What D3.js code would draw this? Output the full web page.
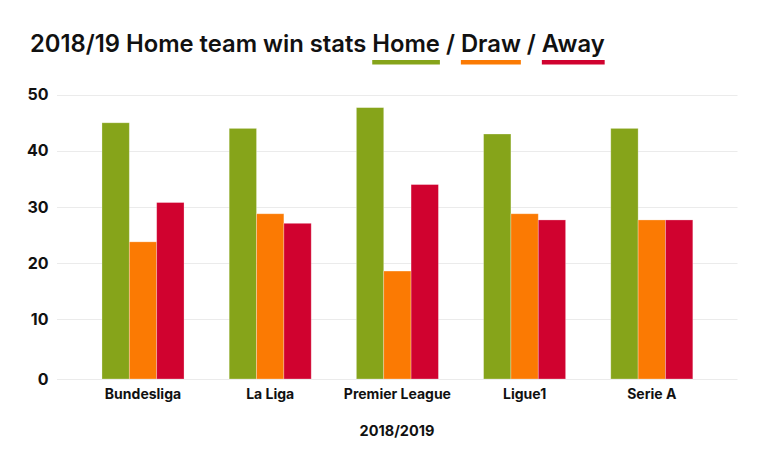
<!DOCTYPE html>
<html>
<head>
<meta charset="utf-8">
<script src="https://cdn.jsdelivr.net/npm/d3@7/dist/d3.min.js"></script>
<style>
  html, body { margin: 0; padding: 0; background: #fff; }
  svg { display: block; }
  text { font-family: "Inter", "Liberation Sans", Arial, sans-serif; fill: #111; }
</style>
</head>
<body>
<svg id="chart" width="763" height="462"></svg>
<script>
// ---- data ----
const leagues = ["Bundesliga", "La Liga", "Premier League", "Ligue1", "Serie A"];
const seriesNames = ["Home", "Draw", "Away"];
const homeWins = [45.0, 44.0, 47.7, 43.0, 44.0];
const draws    = [23.8, 28.8, 18.6, 28.8, 27.7];
const awayWins = [30.8, 27.1, 34.0, 27.7, 27.7];
const yTicks = [0, 10, 20, 30, 40, 50];
const xAxisTitle = "2018/2019";
const titlePrefix = "2018/19 Home team win stats ";
const colors = ["#86a41a", "#fb7a03", "#d0022f"];

const seriesValues = [homeWins, draws, awayWins];
const data = leagues.map((l, i) => ({
  league: l,
  values: seriesNames.map((s, j) => ({ key: s, value: seriesValues[j][i], idx: j }))
}));

// ---- layout ----
const svg = d3.select("#chart");
const gridLeft = 57, gridRight = 737.5;
const plotBottom = 379;

const x = d3.scaleBand().domain(leagues).range([79.4, 715.4])
  .paddingInner(0.355).paddingOuter(0.1775);
const xs = d3.scaleBand().domain(seriesNames).range([0, x.bandwidth()]);
const y = d3.scaleLinear().domain([0, 50]).range([375.5, 94.7]);

// gridlines
const grid = svg.append("g");
grid.selectAll("line").data(yTicks).join("line")
  .attr("x1", gridLeft).attr("x2", gridRight)
  .attr("y1", d => d === 0 ? plotBottom + 0.5 : Math.round(y(d)) + 0.5)
  .attr("y2", d => d === 0 ? plotBottom + 0.5 : Math.round(y(d)) + 0.5)
  .attr("stroke", "#ebebeb").attr("stroke-width", 1);

// y labels
svg.append("g").selectAll("text").data(yTicks).join("text")
  .attr("x", 48.5)
  .attr("y", d => (d === 0 ? plotBottom : y(d)) + 5.5)
  .attr("text-anchor", "end")
  .attr("font-size", 16).attr("font-weight", 700)
  .text(d => d);

// bars
const groups = svg.append("g").selectAll("g").data(data).join("g")
  .attr("transform", d => `translate(${x(d.league)},0)`);
groups.selectAll("rect").data(d => d.values).join("rect")
  .attr("x", d => xs(d.key))
  .attr("width", xs.bandwidth())
  .attr("y", d => y(d.value))
  .attr("height", d => plotBottom - y(d.value))
  .attr("fill", d => colors[d.idx])
  .attr("stroke", "rgba(255,255,255,0.35)").attr("stroke-width", 0.8);

// x labels
svg.append("g").selectAll("text").data(leagues).join("text")
  .attr("x", d => x(d) + x.bandwidth() / 2)
  .attr("y", 398.5)
  .attr("text-anchor", "middle")
  .attr("font-size", 14).attr("font-weight", 700)
  .text(d => d);

svg.append("text")
  .attr("x", 397).attr("y", 435.5)
  .attr("text-anchor", "middle")
  .attr("font-size", 14.5).attr("font-weight", 700)
  .text(xAxisTitle);

// title with underlined series names
const title = svg.append("text")
  .attr("x", 30).attr("y", 52)
  .attr("font-size", 22).attr("font-weight", 600);
title.append("tspan").text(titlePrefix);
seriesNames.forEach((s, i) => {
  title.append("tspan").text(s);
  if (i < seriesNames.length - 1) title.append("tspan").text(" / ");
});
// fit title width to reference (~575px)
const targetW = 575;
const w = title.node().getComputedTextLength();
title.attr("font-size", 22 * targetW / w);

const node = title.node();
let pos = titlePrefix.length;
seriesNames.forEach((s, i) => {
  const start = node.getStartPositionOfChar(pos);
  const end = node.getEndPositionOfChar(pos + s.length - 1);
  svg.append("rect")
    .attr("x", start.x).attr("y", 60)
    .attr("width", end.x - start.x).attr("height", 4.5)
    .attr("fill", colors[i]);
  pos += s.length + 3;
});
</script>
</body>
</html>
